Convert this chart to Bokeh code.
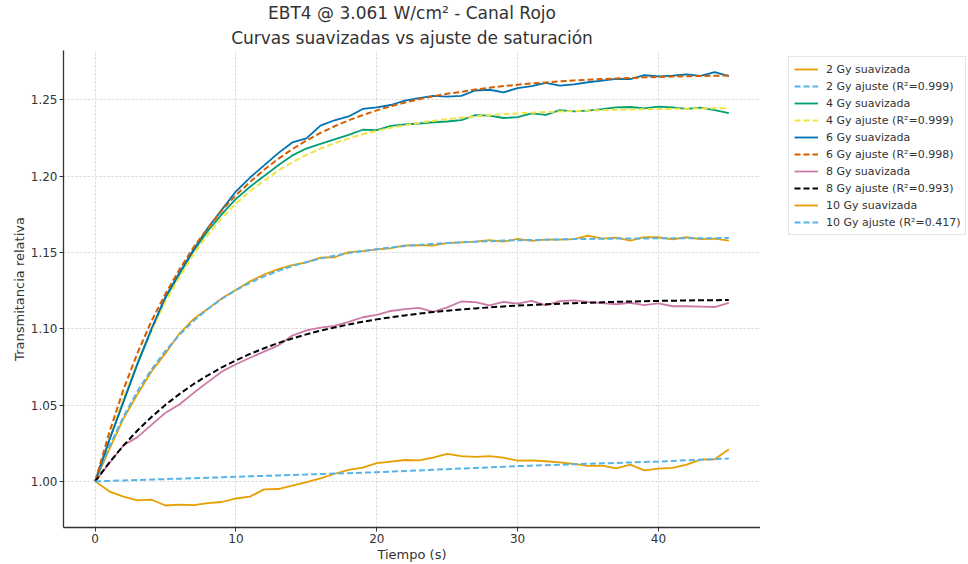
from bokeh.plotting import figure
from bokeh.layouts import row
from bokeh.models import Title, Legend, LegendItem, FixedTicker, Range1d, CustomJSTickFormatter
from bokeh.embed import file_html
from bokeh.resources import INLINE

TIEMPO = [0, 1, 2, 3, 4, 5, 6, 7, 8, 9, 10, 11, 12, 13, 14, 15, 16, 17, 18, 19, 20, 21, 22,
          23, 24, 25, 26, 27, 28, 29, 30, 31, 32, 33, 34, 35, 36, 37, 38, 39, 40, 41, 42, 43, 44, 45]

S2_SUAV = [1.000, 1.021, 1.041, 1.057, 1.072, 1.084, 1.097, 1.1064, 1.113, 1.120, 1.1255, 1.131,
           1.1355, 1.139, 1.1417, 1.1435, 1.1465, 1.1468, 1.1502, 1.1508, 1.152, 1.1527, 1.1546,
           1.1548, 1.1545, 1.156, 1.1566, 1.157, 1.158, 1.157, 1.1588, 1.1575, 1.1583, 1.1583,
           1.1586, 1.161, 1.159, 1.1597, 1.1577, 1.160, 1.1599, 1.1585, 1.1599, 1.1587, 1.159, 1.1577]
S2_AJ = [1.000, 1.0227, 1.0423, 1.0590, 1.0733, 1.0856, 1.0961, 1.1052, 1.1129, 1.1196, 1.1253,
         1.1301, 1.1343, 1.1379, 1.1410, 1.1436, 1.1459, 1.1478, 1.1495, 1.1509, 1.1521, 1.1532,
         1.1541, 1.1549, 1.1555, 1.1561, 1.1566, 1.1570, 1.1573, 1.1577, 1.1579, 1.1581, 1.1583,
         1.1585, 1.1587, 1.1588, 1.1589, 1.1590, 1.1590, 1.1591, 1.1592, 1.1592, 1.1593, 1.1593,
         1.1593, 1.1594]

S4_SUAV = [1.000, 1.027, 1.052, 1.077, 1.099, 1.120, 1.136, 1.151, 1.164, 1.175, 1.185, 1.193,
           1.200, 1.207, 1.2135, 1.218, 1.221, 1.224, 1.227, 1.2303, 1.230, 1.2329, 1.2338, 1.2344,
           1.2352, 1.2357, 1.2366, 1.2399, 1.2395, 1.238, 1.2385, 1.241, 1.240, 1.2432, 1.2423,
           1.2428, 1.2438, 1.245, 1.2452, 1.2443, 1.2455, 1.245, 1.244, 1.2448, 1.2432, 1.2412]
S4_AJ = [1.000, 1.028, 1.054, 1.078, 1.099, 1.118, 1.134, 1.149, 1.1615, 1.1725, 1.182,
         1.190, 1.197, 1.2035, 1.209, 1.2138, 1.2180, 1.2215, 1.2246, 1.2273, 1.2296, 1.2316,
         1.2333, 1.2348, 1.2361, 1.2372, 1.2382, 1.2391, 1.2398, 1.2405, 1.2410, 1.2415, 1.2419,
         1.2423, 1.2426, 1.2429, 1.2432, 1.2434, 1.2436, 1.2437, 1.2439, 1.2440, 1.2441, 1.2442,
         1.2443, 1.2443]

S6_SUAV = [1.000, 1.027, 1.052, 1.077, 1.100, 1.121, 1.137, 1.152, 1.166, 1.178, 1.190, 1.199,
           1.207, 1.215, 1.222, 1.2246, 1.233, 1.2365, 1.239, 1.2439, 1.245, 1.2465, 1.2493, 1.251,
           1.2525, 1.252, 1.2525, 1.256, 1.2565, 1.2548, 1.2575, 1.2588, 1.261, 1.2592, 1.260,
           1.2614, 1.2625, 1.2636, 1.2635, 1.266, 1.2652, 1.2658, 1.2666, 1.2656, 1.268, 1.2654]
S6_AJ = [1.000, 1.032, 1.060, 1.084, 1.105, 1.123, 1.139, 1.1535, 1.166, 1.1775, 1.1875,
         1.1961, 1.2041, 1.2112, 1.2176, 1.2232, 1.2282, 1.2326, 1.2365, 1.2399, 1.2430, 1.2457,
         1.2481, 1.2503, 1.2522, 1.2539, 1.2551, 1.2567, 1.2578, 1.2589, 1.2598, 1.2606, 1.2613,
         1.2620, 1.2626, 1.2630, 1.2635, 1.2639, 1.2642, 1.2646, 1.2648, 1.2651, 1.2653, 1.2655,
         1.2657, 1.2658]

S8_SUAV = [1.000, 1.0118, 1.0235, 1.029, 1.037, 1.045, 1.0505, 1.058, 1.065, 1.072, 1.0767, 1.081,
           1.085, 1.089, 1.0955, 1.0989, 1.1007, 1.1018, 1.1045, 1.1075, 1.109, 1.1116, 1.1128,
           1.1136, 1.111, 1.114, 1.1178, 1.1174, 1.1152, 1.1175, 1.1164, 1.1182, 1.1153, 1.118,
           1.1185, 1.1176, 1.1168, 1.116, 1.117, 1.1155, 1.1166, 1.1147, 1.1147, 1.1145, 1.1142, 1.1169]
S8_AJ = [1.000, 1.0123, 1.0234, 1.0333, 1.0422, 1.0502, 1.0573, 1.0638, 1.0695, 1.0747, 1.0793,
         1.0835, 1.0872, 1.0906, 1.0936, 1.0963, 1.0987, 1.1008, 1.1028, 1.1045, 1.1061, 1.1075,
         1.1087, 1.1099, 1.1109, 1.1118, 1.1126, 1.1133, 1.1140, 1.1146, 1.1151, 1.1156, 1.1160,
         1.1164, 1.1167, 1.1170, 1.1173, 1.1176, 1.1178, 1.1180, 1.1182, 1.1183, 1.1185, 1.1186,
         1.1187, 1.1188]

S10_SUAV = [1.000, 0.9935, 0.990, 0.9875, 0.988, 0.9842, 0.9848, 0.9845, 0.9857, 0.9865, 0.9888,
            0.990, 0.9948, 0.995, 0.9972, 0.9995, 1.002, 1.005, 1.0075, 1.009, 1.012, 1.013, 1.014,
            1.0138, 1.0155, 1.018, 1.0165, 1.016, 1.0165, 1.0155, 1.0136, 1.0138, 1.0132, 1.0125,
            1.0114, 1.0102, 1.0103, 1.0085, 1.011, 1.0072, 1.0084, 1.0088, 1.011, 1.0142, 1.0145, 1.021]
S10_AJ = [1.000, 1.0003, 1.0006, 1.0009, 1.0012, 1.0015, 1.0018, 1.0021, 1.0024, 1.0027, 1.0030,
          1.0033, 1.0036, 1.0039, 1.0042, 1.0045, 1.0048, 1.0051, 1.0054, 1.0057, 1.0060, 1.0064,
          1.0068, 1.0072, 1.0076, 1.0080, 1.0084, 1.0088, 1.0092, 1.0096, 1.0100, 1.0103, 1.0106,
          1.0109, 1.0112, 1.0115, 1.0118, 1.0121, 1.0124, 1.0127, 1.0130, 1.0134, 1.0138, 1.0142,
          1.0146, 1.0150]

SERIES = [
    ("2 Gy suavizada", S2_SUAV, "#E69F00", None),
    ("2 Gy ajuste (R²=0.999)", S2_AJ, "#56B4E9", "6 3"),
    ("4 Gy suavizada", S4_SUAV, "#009E73", None),
    ("4 Gy ajuste (R²=0.999)", S4_AJ, "#F0E442", "6 3"),
    ("6 Gy suavizada", S6_SUAV, "#0072B2", None),
    ("6 Gy ajuste (R²=0.998)", S6_AJ, "#D55E00", "6 3"),
    ("8 Gy suavizada", S8_SUAV, "#CC79A7", None),
    ("8 Gy ajuste (R²=0.993)", S8_AJ, "#000000", "6 3"),
    ("10 Gy suavizada", S10_SUAV, "#E69F00", None),
    ("10 Gy ajuste (R²=0.417)", S10_AJ, "#56B4E9", "6 3"),
]

X_TICKS = [0, 10, 20, 30, 40]
Y_TICKS = [1.00, 1.05, 1.10, 1.15, 1.20, 1.25]

FONT = "DejaVu Sans"
TXT = "#333333"

p = figure(width=760, height=564, output_backend="svg", toolbar_location=None,
           x_range=Range1d(-2.25, 47.25), y_range=Range1d(0.9698, 1.2822),
           min_border_left=63, min_border_right=0, min_border_top=14, min_border_bottom=36,
           title=None)
p.outline_line_color = None
p.background_fill_color = "white"
p.border_fill_color = "white"

# legend lives in a narrow side figure (so it is not clipped by the plot frame);
# its ranges are set away from the data so its copies of the lines stay out of view
pl = figure(width=208, height=564, output_backend="svg", toolbar_location=None,
            x_range=Range1d(100, 101), y_range=Range1d(100, 101),
            min_border_left=0, min_border_right=0, min_border_top=0, min_border_bottom=0,
            title=None)
pl.axis.visible = False
pl.grid.visible = False
pl.outline_line_color = None
pl.background_fill_color = "white"
pl.border_fill_color = "white"

items = []
for label, ys, color, dash in SERIES:
    if dash:
        p.line(TIEMPO, ys, line_color=color, line_width=2.0, line_dash=dash)
        r = pl.line(TIEMPO, ys, line_color=color, line_width=2.0, line_dash=dash)
    else:
        p.line(TIEMPO, ys, line_color=color, line_width=1.8)
        r = pl.line(TIEMPO, ys, line_color=color, line_width=1.8)
    items.append(LegendItem(label=label, renderers=[r]))

t2 = Title(text="Curvas suavizadas vs ajuste de saturación", align="center",
           text_font=FONT, text_font_size="17px", text_font_style="normal",
           text_color=TXT, standoff=6, offset=0)
t1 = Title(text="EBT4 @ 3.061 W/cm² - Canal Rojo", align="center",
           text_font=FONT, text_font_size="17px", text_font_style="normal",
           text_color=TXT, standoff=0, offset=0)
p.add_layout(t2, "above")
p.add_layout(t1, "above")

for ax in (p.xaxis[0], p.yaxis[0]):
    ax.axis_line_color = "#333333"
    ax.axis_line_width = 1.3
    ax.major_tick_line_color = "#333333"
    ax.major_tick_out = 4
    ax.major_tick_in = 0
    ax.minor_tick_line_color = None
    ax.major_label_text_font = FONT
    ax.major_label_text_font_size = "12px"
    ax.major_label_text_color = TXT
    ax.axis_label_text_font = FONT
    ax.axis_label_text_font_size = "13px"
    ax.axis_label_text_font_style = "normal"
    ax.axis_label_text_color = TXT
    ax.major_label_standoff = 2
    ax.axis_label_standoff = 1

p.xaxis.ticker = FixedTicker(ticks=X_TICKS)
p.yaxis.ticker = FixedTicker(ticks=Y_TICKS)
p.yaxis.formatter = CustomJSTickFormatter(code="return tick.toFixed(2);")
p.xaxis.axis_label = "Tiempo (s)"
p.yaxis.axis_label = "Transmitancia relativa"

for g in (p.xgrid[0], p.ygrid[0]):
    g.grid_line_color = "#bbbbbb"
    g.grid_line_dash = "2 2"
    g.grid_line_width = 0.8
    g.grid_line_alpha = 0.8

legend = Legend(items=items, location=(28, 292),
                label_text_font=FONT, label_text_font_size="11px", label_text_color=TXT,
                glyph_width=24, glyph_height=14, label_height=14, label_standoff=8,
                spacing=3, padding=5, margin=0,
                border_line_color="#cccccc", border_line_width=1,
                background_fill_color="white", background_fill_alpha=0.8)
pl.add_layout(legend, "center")

layout = row(p, pl, spacing=0)
open("out.html", "w").write(file_html(layout, INLINE))
